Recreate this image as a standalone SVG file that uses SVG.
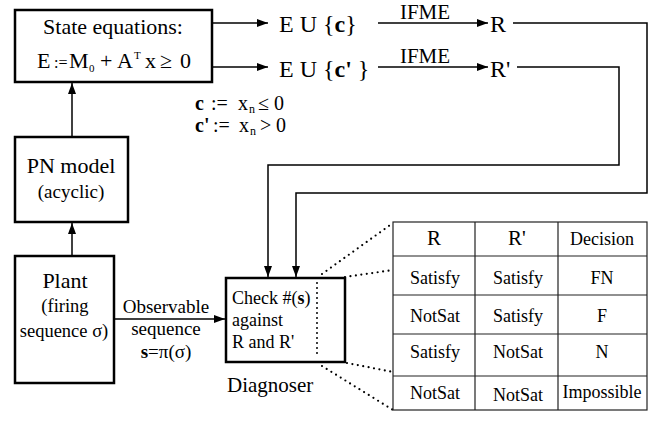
<svg xmlns="http://www.w3.org/2000/svg" width="659" height="422" viewBox="0 0 659 422" font-family="'Liberation Serif', 'Times New Roman', serif">
<defs>
<marker id="ah" viewBox="0 0 11 8" refX="11" refY="4" markerWidth="11" markerHeight="8" markerUnits="userSpaceOnUse" orient="auto"><path d="M0,0 L11,4 L0,8 Z" fill="#000"/></marker>
</defs>
<style>
text{font-family:"Liberation Serif","Times New Roman",serif;fill:#000}
.box{fill:#fff;stroke:#000;stroke-width:2.5}
.con{fill:none;stroke:#000;stroke-width:1.5}
.dot{fill:none;stroke:#000;stroke-width:2.2;stroke-dasharray:0 5.5;stroke-linecap:round}
.tbl{fill:none;stroke:#222;stroke-width:1.2}
.c{text-anchor:middle}
.b{font-weight:bold}
.t{font-size:18px}
</style>
<rect width="659" height="422" fill="#fff"/>

<g id="connectors">
<line class="con" x1="212" y1="23" x2="268" y2="23" marker-end="url(#ah)"/>
<line class="con" x1="212" y1="67" x2="268" y2="67" marker-end="url(#ah)"/>
<line class="con" x1="378" y1="23" x2="488" y2="23" marker-end="url(#ah)"/>
<line class="con" x1="378" y1="67" x2="488" y2="67" marker-end="url(#ah)"/>
<path class="con" d="M513,23 H647 V193 H296 V277" marker-end="url(#ah)"/>
<path class="con" d="M517,67 H619 V165 H268 V277" marker-end="url(#ah)"/>
<line class="con" x1="114" y1="319" x2="225" y2="319" marker-end="url(#ah)"/>
<line class="con" x1="72" y1="256" x2="72" y2="223" marker-end="url(#ah)"/>
<line class="con" x1="72" y1="137" x2="72" y2="83" marker-end="url(#ah)"/>
<text class="c" x="425" y="19" font-size="21">IFME</text>
<text class="c" x="425" y="63" font-size="21">IFME</text>
<text class="c" x="166" y="313" font-size="19">Observable</text>
<text class="c" x="166" y="335" font-size="19">sequence</text>
<text class="c" x="166" y="358" font-size="19"><tspan class="b">s</tspan>=π(σ)</text>
<path class="dot" d="M322,274 L393,223 M345,277 L393,270 M347,363 L393,372 M322,366 L393,410"/>
</g>

<g id="state">
<rect class="box" x="15" y="10" width="197" height="72"/>
<text class="c" x="113" y="34" font-size="22">State equations:</text>
<text y="68" font-size="22"><tspan x="37">E</tspan><tspan x="54" font-size="16">:=</tspan><tspan x="69">M</tspan><tspan x="89" dy="4" font-size="11">0</tspan><tspan x="100" dy="-4">+</tspan><tspan x="117">A</tspan><tspan x="134" dy="-9" font-size="11">T</tspan><tspan x="145" dy="9">x</tspan><tspan x="160">≥</tspan><tspan x="180">0</tspan></text>
</g>

<g id="euc">
<text x="279" y="32" font-size="24" xml:space="preserve">E U {<tspan class="b">c</tspan>}</text>
</g>
<g id="eucp">
<text x="279" y="77" font-size="24" xml:space="preserve">E U {<tspan class="b">c'</tspan> }</text>
</g>
<g id="r">
<text x="490" y="32" font-size="24">R</text>
</g>
<g id="rp">
<text x="490" y="77" font-size="24">R'</text>
</g>

<g id="defs-c">
<text y="110" font-size="20"><tspan x="195" class="b">c</tspan><tspan x="211">:=</tspan><tspan x="238">x</tspan><tspan x="249" dy="3" font-size="12">n</tspan><tspan x="258" dy="-3">≤</tspan><tspan x="274">0</tspan></text>
<text y="132" font-size="20"><tspan x="195" class="b">c'</tspan><tspan x="213">:=</tspan><tspan x="239">x</tspan><tspan x="250" dy="3" font-size="12">n</tspan><tspan x="260" dy="-3">&gt;</tspan><tspan x="276">0</tspan></text>
</g>

<g id="pn">
<rect class="box" x="15" y="137" width="113" height="85"/>
<text class="c" x="71" y="173" font-size="22">PN model</text>
<text class="c" x="71" y="198" font-size="19">(acyclic)</text>
</g>

<g id="plant">
<rect class="box" x="15" y="256" width="99" height="127"/>
<text class="c" x="65" y="288" font-size="22">Plant</text>
<text class="c" x="65" y="312" font-size="18.5">(firing</text>
<text class="c" x="64" y="337" font-size="18.5">sequence σ)</text>
</g>

<g id="diagnoser">
<rect class="box" x="226" y="278" width="119" height="84"/>
<line x1="317" y1="283" x2="317" y2="357" stroke="#000" stroke-width="2" stroke-dasharray="0 5" stroke-linecap="round"/>
<text x="232" y="304" font-size="18">Check #(<tspan class="b">s</tspan>)</text>
<text x="232" y="326" font-size="18">against</text>
<text x="232" y="348" font-size="18">R and R'</text>
<text x="227" y="392" font-size="21">Diagnoser</text>
</g>

<g id="table">
<rect class="tbl" x="393" y="222" width="254" height="188"/>
<path class="tbl" d="M475,222 V410 M558,222 V410 M393,256 H647 M393,295 H647 M393,334 H647 M393,376 H647"/>
<text class="c" x="434" y="245" font-size="21">R</text>
<text class="c" x="517" y="245" font-size="21">R'</text>
<text class="c t" x="602" y="245">Decision</text>
<text class="c t" x="435" y="284">Satisfy</text>
<text class="c t" x="518" y="284">Satisfy</text>
<text class="c t" x="602" y="284">FN</text>
<text class="c t" x="435" y="322">NotSat</text>
<text class="c t" x="518" y="322">Satisfy</text>
<text class="c t" x="602" y="322">F</text>
<text class="c t" x="435" y="358">Satisfy</text>
<text class="c t" x="518" y="358">NotSat</text>
<text class="c t" x="602" y="358">N</text>
<text class="c t" x="435" y="399">NotSat</text>
<text class="c t" x="518" y="401">NotSat</text>
<text class="c t" x="602" y="398">Impossible</text>
</g>
</svg>
